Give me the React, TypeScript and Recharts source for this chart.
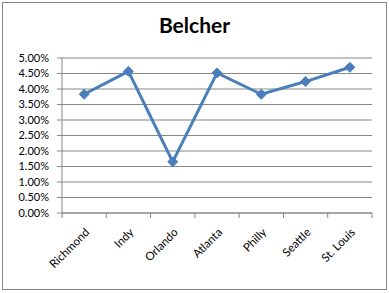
import React from "react";
import {
  ComposedChart,
  Line,
  XAxis,
  YAxis,
  CartesianGrid,
} from "recharts";

const CITIES = ["Richmond", "Indy", "Orlando", "Atlanta", "Philly", "Seattle", "St. Louis"];
const RATES = [0.0383, 0.0457, 0.0165, 0.0452, 0.0383, 0.0424, 0.047];
const Y_TICKS = [0, 0.005, 0.01, 0.015, 0.02, 0.025, 0.03, 0.035, 0.04, 0.045, 0.05];

const data = CITIES.map((city, i) => ({ city, rate: RATES[i] }));

const GRAY = "#868686";
const BLUE = "#4a7ebb";
const FONT = "Lato, 'Open Sans', sans-serif";

const Diamond = (props: any) => {
  const { cx, cy } = props;
  if (cx == null || cy == null) return null;
  const r = 5;
  return (
    <polygon
      points={`${cx},${cy - r} ${cx + r},${cy} ${cx},${cy + r} ${cx - r},${cy}`}
      fill={BLUE}
      stroke={BLUE}
      strokeWidth={1}
    />
  );
};

// category label plus the Excel-style tick marks on the band edges
const CityTick = (props: any) => {
  const { x, y, payload, index, visibleTicksCount, width } = props;
  const half = payload.offset || width / visibleTicksCount / 2;
  const isLast = index === visibleTicksCount - 1;
  return (
    <g>
      <line x1={x - half} x2={x - half} y1={y} y2={y + 5} stroke={GRAY} />
      {isLast && <line x1={x + half} x2={x + half} y1={y} y2={y + 5} stroke={GRAY} />}
      <g transform={`translate(${x + 6},${y + 20})`}>
        <text
          textAnchor="end"
          transform="rotate(-45)"
          fontSize={11.5}
          fontFamily={FONT}
          fill="#000"
        >
          {payload.value}
        </text>
      </g>
    </g>
  );
};

export default function App() {
  return (
    <div style={{ position: "absolute", left: 0, top: 0, width: 389, height: 293, background: "#fff" }}>
      <div
        style={{
          position: "absolute",
          left: 2,
          top: 2,
          width: 383,
          height: 286,
          border: `1px solid ${GRAY}`,
        }}
      />
      <div
        style={{
          position: "absolute",
          left: 0,
          top: 14,
          width: 389,
          textAlign: "center",
          fontFamily: FONT,
          fontWeight: "bold",
          fontSize: 21,
          lineHeight: "22px",
          color: "#000",
        }}
      >
        Belcher
      </div>
      <div style={{ position: "absolute", left: 0, top: 0 }}>
        <ComposedChart
          width={389}
          height={293}
          data={data}
          margin={{ top: 58, right: 17, bottom: 0, left: 0 }}
        >
          <CartesianGrid vertical={false} stroke={GRAY} strokeWidth={1} />
          <XAxis
            dataKey="city"
            type="category"
            scale="band"
            interval={0}
            tickLine={false}
            axisLine={{ stroke: GRAY }}
            tickSize={0}
            tickMargin={0}
            height={80}
            tick={<CityTick />}
          />
          <YAxis
            domain={[0, 0.05]}
            ticks={Y_TICKS}
            interval={0}
            width={62}
            tickSize={5}
            tickMargin={8}
            stroke={GRAY}
            tick={{ fontSize: 11, fontFamily: FONT, fill: "#000" }}
            tickFormatter={(v: number) => (v * 100).toFixed(2) + "%"}
          />
          <Line
            dataKey="rate"
            stroke={BLUE}
            strokeWidth={3}
            dot={<Diamond />}
            isAnimationActive={false}
          />
        </ComposedChart>
      </div>
    </div>
  );
}
